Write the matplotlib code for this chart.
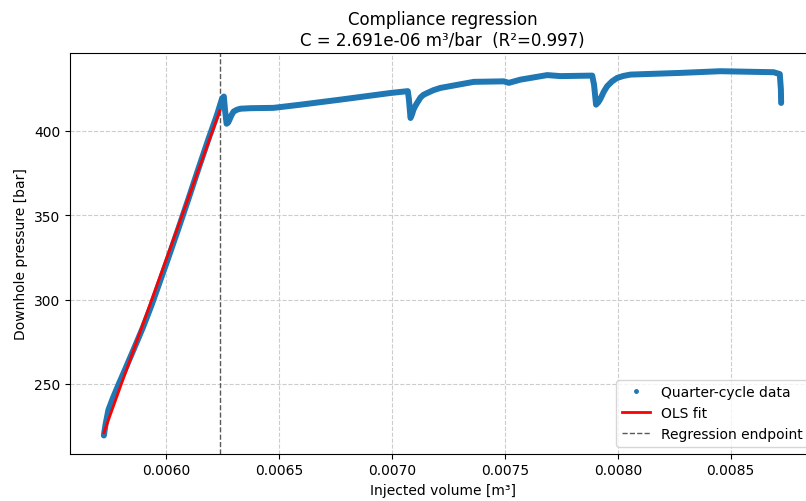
import numpy as np
import matplotlib
matplotlib.use("Agg")
from matplotlib import pyplot as plt
from matplotlib.lines import Line2D

# quarter-cycle record: injected volume [m3] vs downhole pressure [bar]
volume = [0.005726, 0.005733, 0.005746, 0.005766, 0.005794, 0.005819, 0.005857,
          0.005898, 0.005936, 0.005972, 0.006008, 0.006054, 0.006099, 0.006143,
          0.006188, 0.006227, 0.006249, 0.006257, 0.006262, 0.006269, 0.006276,
          0.006282, 0.006290, 0.006300, 0.006315, 0.006331, 0.006375, 0.006477,
          0.006597, 0.006774, 0.006994, 0.007071, 0.007076, 0.007083, 0.007090,
          0.007096, 0.007104, 0.007112, 0.007127, 0.007140, 0.007157, 0.007185,
          0.007215, 0.007363, 0.007496, 0.007518, 0.007569, 0.007688, 0.007747,
          0.007887, 0.007895, 0.007904, 0.007914, 0.007924, 0.007938, 0.007953,
          0.007975, 0.007997, 0.008025, 0.008056, 0.008277, 0.008454, 0.008690,
          0.008717, 0.008722, 0.008723]
pressure = [219.5, 225.7, 234.6, 241.7, 250.6, 258.3, 270.2,
            283.2, 296.3, 309.9, 323.5, 341.3, 359.1, 376.9,
            394.7, 409.5, 419.0, 420.2, 412.4, 404.1, 404.8,
            406.5, 409.0, 411.3, 412.4, 413.0, 413.3, 413.5,
            415.4, 418.4, 422.3, 423.4, 418.4, 407.5, 409.8,
            412.4, 414.6, 416.4, 419.6, 421.2, 422.3, 424.0,
            425.3, 428.9, 429.2, 428.3, 430.2, 432.9, 432.3,
            432.6, 427.3, 415.4, 416.8, 419.0, 423.0, 426.3,
            429.2, 431.2, 432.4, 433.2, 434.2, 435.2, 434.6,
            433.5, 424.3, 416.4]

# regression result
C_fit = 2.691e-06      # m3/bar
r2 = 0.997
v_start = 0.005726
p_start = 221.2
v_end = 0.006239       # regression endpoint

fig = plt.figure(figsize=(8.06, 5.02), dpi=100)
ax = fig.add_axes([70 / 806, 47.3 / 502, 745 / 806, 400.7 / 502])

blue = '#1f77b4'
ax.plot(volume, pressure, '-', color=blue, lw=4.3, solid_capstyle='round',
        solid_joinstyle='round', zorder=2)

v_fit = np.array([v_start, v_end])
p_fit = p_start + (v_fit - v_start) / C_fit
ax.plot(v_fit, p_fit, color='red', lw=2, zorder=3)
ax.axvline(v_end, color='0.35', ls='--', lw=1, zorder=1)

ax.grid(True, ls='--', color='#cccccc', lw=0.8)
ax.set_axisbelow(True)
ax.set_xlabel('Injected volume [m³]')
ax.set_ylabel('Downhole pressure [bar]')
ax.set_title('Compliance regression\nC = %.3e m³/bar  (R²=%.3f)' % (C_fit, r2),
             fontsize=12)

handles = [Line2D([], [], ls='none', marker='o', ms=2.5, color=blue),
           Line2D([], [], color='red', lw=2),
           Line2D([], [], color='0.35', ls='--', lw=1)]
ax.legend(handles, ['Quarter-cycle data', 'OLS fit', 'Regression endpoint'],
          loc='lower right')

fig.savefig('out.png', dpi=100)
